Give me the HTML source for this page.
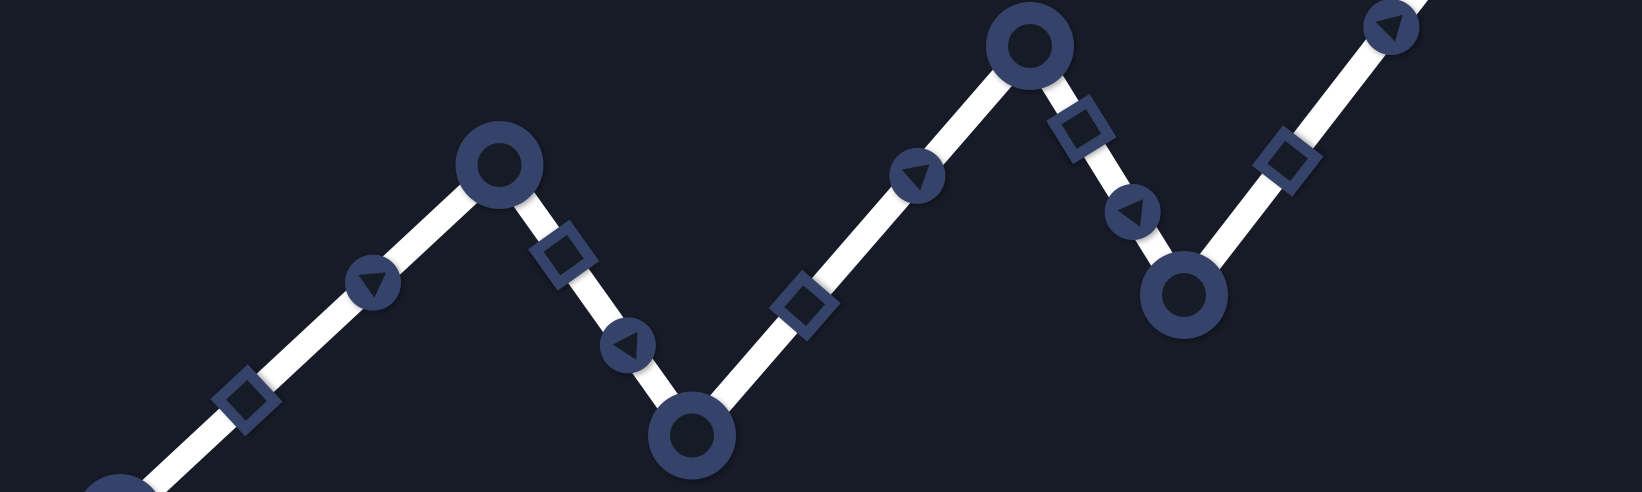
<!DOCTYPE html>
<html><head><meta charset="utf-8"><style>
html,body{margin:0;padding:0;background:#161b27;overflow:hidden;width:1642px;height:492px;}
svg{display:block;overflow:hidden}
</style></head><body>
<svg id="chart" width="1642" height="492" viewBox="0 0 1642 492">
<defs><filter id="sh" x="-50%" y="-50%" width="200%" height="200%"><feDropShadow dx="2" dy="2" stdDeviation="3" flood-color="#000" flood-opacity="0.35"/></filter></defs>
<rect width="1642" height="492" fill="#161b27"/>
<g id="g"></g>
</svg>
<script>
const xs = [120, 499.5, 692, 1030, 1184, 1495];
const ys = [518, 165, 435.5, 46, 295, -107];
const g = document.getElementById('g');
const NS = 'http://www.w3.org/2000/svg';
const C = '#34426a', BG = '#161b27';
function mk(t, a, p) { const e = document.createElementNS(NS, t); for (const k in a) e.setAttribute(k, a[k]); (p || g).appendChild(e); return e; }
const line = mk('polyline', { points: xs.map((x, i) => x + ',' + ys[i]).join(' '), fill: 'none', stroke: '#fff', 'stroke-width': 25, 'stroke-linejoin': 'miter' });


for (let i = 0; i < xs.length - 1; i++) {
  const dx = xs[i+1] - xs[i], dy = ys[i+1] - ys[i];
  const ang = Math.atan2(dy, dx) * 180 / Math.PI;
  const sx = xs[i] + dx / 3, sy = ys[i] + dy / 3;
  const sq = mk('rect', { x: -20, y: -20, width: 40, height: 40, fill: BG, stroke: C, 'stroke-width': 11, transform: `translate(${sx},${sy}) rotate(${ang})`, filter: 'url(#sh)' });
  
  
  const tx = xs[i] + 2 * dx / 3, ty = ys[i] + 2 * dy / 3;
  const tg = mk('g', { transform: `translate(${tx},${ty})`, filter: 'url(#sh)' });
  
  
  mk('circle', { r: 28, fill: C }, tg);
  mk('polygon', { points: '-14,-9 14,-9 0,15', fill: BG, transform: `rotate(${ang + 38})` }, tg);
}
for (let i = 0; i < xs.length; i++) {
  const c = mk('circle', { cx: xs[i], cy: ys[i], r: 33, fill: BG, stroke: C, 'stroke-width': 22, filter: 'url(#sh)' });
  
  
}
</script>
</body></html>
